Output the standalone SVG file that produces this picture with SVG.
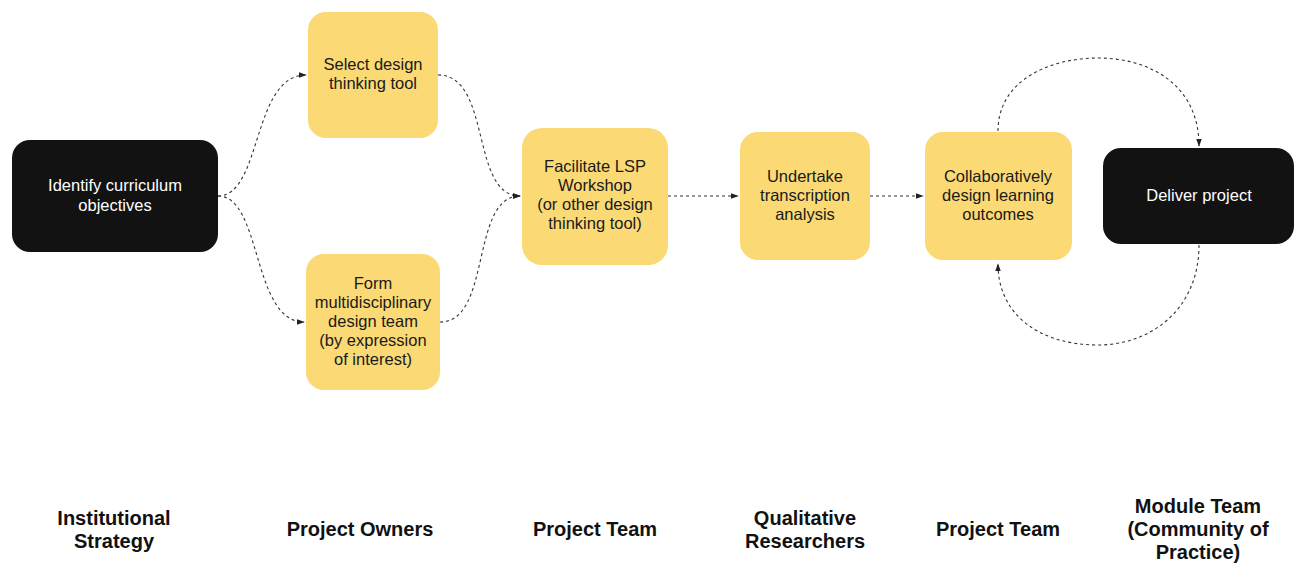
<svg xmlns="http://www.w3.org/2000/svg" width="1294" height="564" viewBox="0 0 1294 564">
<defs>
<marker id="arr" viewBox="0 0 10 10" refX="9" refY="5" markerWidth="8" markerHeight="8" markerUnits="userSpaceOnUse" orient="auto">
<path d="M0,1.5 L10,5 L0,8.5 z" fill="#222"/>
</marker>
<style>
.dark{fill:#121212}
.yel{fill:#fbd975}
.t{font-family:"Liberation Sans",Arial,sans-serif;font-size:16.5px;text-anchor:middle}
.tw{fill:#fff}
.tb{fill:#1a1a1a}
.lab{font-family:"Liberation Sans",Arial,sans-serif;font-size:20px;font-weight:bold;text-anchor:middle;fill:#111}
.c{fill:none;stroke:#333;stroke-width:1.1;stroke-dasharray:3 3;marker-end:url(#arr)}
</style>
</defs>
<rect width="1294" height="564" fill="#fff"/>
<g id="connectors">
<path class="c" d="M218,196 C262,196 252,75 306,75"/>
<path class="c" d="M218,196 C262,196 252,322 304,322"/>
<path class="c" d="M438,75 C492,75 470,196 520,196"/>
<path class="c" d="M440,322 C492,322 470,196 520,196"/>
<path class="c" d="M668,196 L738,196"/>
<path class="c" d="M870,196 L923,196"/>
<path class="c" d="M998,131 C998,80 1050,58 1098,58 C1150,58 1199,85 1199,146"/>
<path class="c" d="M1199,245 C1199,310 1150,345 1098,345 C1040,345 998,315 998,264"/>
</g>
<g id="n1"><rect class="dark" x="12" y="140" width="206" height="112" rx="18"/><text class="t tw" x="115" y="191">Identify curriculum</text><text class="t tw" x="115" y="211">objectives</text></g>
<g id="n2"><rect class="yel" x="308" y="12" width="130" height="126" rx="18"/><text class="t tb" x="373" y="70">Select design</text><text class="t tb" x="373" y="89">thinking tool</text></g>
<g id="n3"><rect class="yel" x="306" y="254" width="134" height="136" rx="18"/><text class="t tb" x="373" y="289">Form</text><text class="t tb" x="373" y="308">multidisciplinary</text><text class="t tb" x="373" y="327">design team</text><text class="t tb" x="373" y="346">(by expression</text><text class="t tb" x="373" y="365">of interest)</text></g>
<g id="n4"><rect class="yel" x="522" y="128" width="146" height="137" rx="20"/><text class="t tb" x="595" y="172">Facilitate LSP</text><text class="t tb" x="595" y="191">Workshop</text><text class="t tb" x="595" y="210">(or other design</text><text class="t tb" x="595" y="229">thinking tool)</text></g>
<g id="n5"><rect class="yel" x="740" y="132" width="130" height="128" rx="18"/><text class="t tb" x="805" y="182">Undertake</text><text class="t tb" x="805" y="201">transcription</text><text class="t tb" x="805" y="220">analysis</text></g>
<g id="n6"><rect class="yel" x="925" y="132" width="147" height="128" rx="18"/><text class="t tb" x="998" y="182">Collaboratively</text><text class="t tb" x="998" y="201">design learning</text><text class="t tb" x="998" y="220">outcomes</text></g>
<g id="n7"><rect class="dark" x="1103" y="148" width="191" height="96" rx="18"/><text class="t tw" x="1199" y="201">Deliver project</text></g>
<g id="labels">
<text class="lab" x="114" y="525">Institutional</text><text class="lab" x="114" y="548">Strategy</text>
<text class="lab" x="360" y="536">Project Owners</text>
<text class="lab" x="595" y="536">Project Team</text>
<text class="lab" x="805" y="525">Qualitative</text><text class="lab" x="805" y="548">Researchers</text>
<text class="lab" x="998" y="536">Project Team</text>
<text class="lab" x="1198" y="513">Module Team</text><text class="lab" x="1198" y="536">(Community of</text><text class="lab" x="1198" y="559">Practice)</text>
</g>
</svg>
